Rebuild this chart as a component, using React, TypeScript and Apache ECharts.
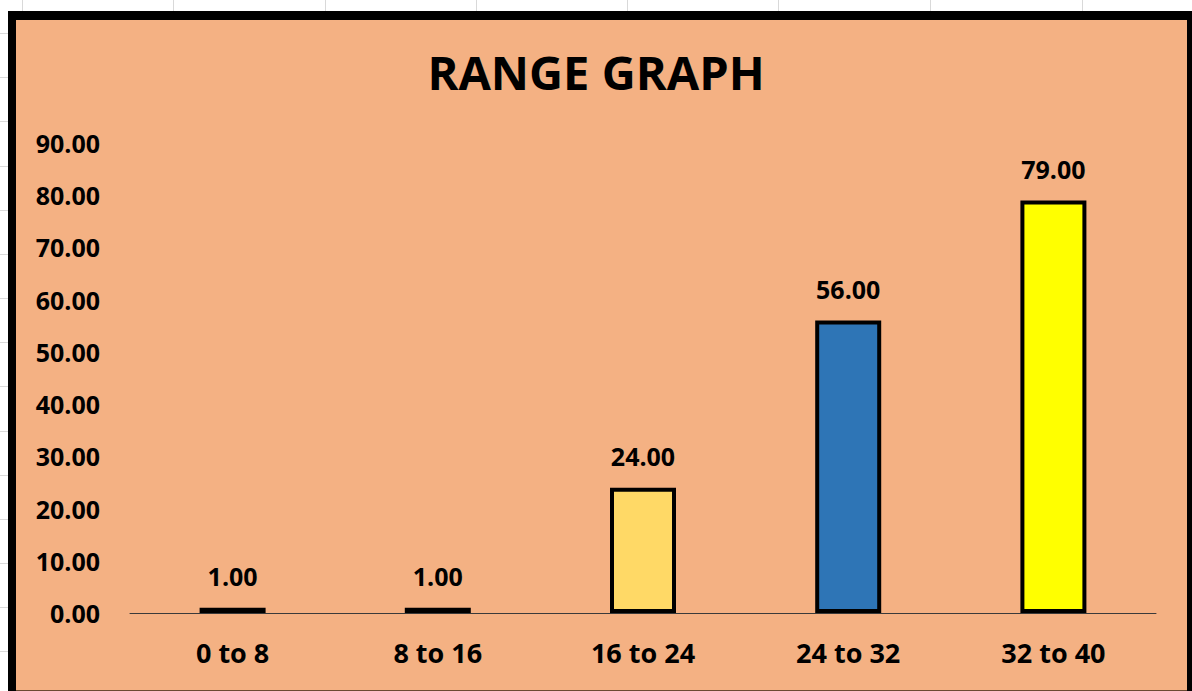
import React, { useEffect, useRef } from "react";
import * as echarts from "echarts";

const categories = ["0 to 8", "8 to 16", "16 to 24", "24 to 32", "32 to 40"];
const values = [1, 1, 24, 56, 79];
const barColors = ["#000000", "#000000", "#FFD966", "#2E75B6", "#FFFF00"];
const yTicks = { min: 0, max: 90, interval: 10 };
const titleText = "RANGE GRAPH";

const FONT = "'Open Sans', 'Noto Sans', sans-serif";

export default function App() {
  const ref = useRef<HTMLDivElement>(null);
  useEffect(() => {
    if (!ref.current) return;
    const chart = echarts.init(ref.current, undefined, { renderer: "svg" });

    const gridLines: any[] = [];
    const vx = [22, 173, 325, 476, 627, 778, 930, 1082];
    vx.forEach((x) =>
      gridLines.push({
        type: "line",
        z: -20,
        shape: { x1: x + 0.5, y1: 0, x2: x + 0.5, y2: 11 },
        style: { stroke: "#d9d9d9", lineWidth: 1 },
      })
    );
    for (let i = 0; i < 15; i++) {
      const y = Math.round(33 + i * 44.17) + 0.5;
      gridLines.push({
        type: "line",
        z: -20,
        shape: { x1: 0, y1: y, x2: 8, y2: y },
        style: { stroke: "#d9d9d9", lineWidth: 1 },
      });
    }

    chart.setOption({
      animation: false,
      backgroundColor: "#ffffff",
      title: {
        text: titleText,
        left: "center",
        top: 43,
        textStyle: {
          fontFamily: FONT,
          fontWeight: "bold",
          fontSize: 47,
          color: "#000000",
        },
      },
      graphic: [
        ...gridLines,
        {
          type: "rect",
          z: -15,
          shape: { x: 8, y: 11, width: 1184, height: 680 },
          style: { fill: "#000000" },
        },
        {
          type: "rect",
          z: -14,
          shape: { x: 16, y: 20, width: 1171, height: 671 },
          style: { fill: "#F4B183" },
        },
        {
          type: "line",
          z: -13,
          shape: { x1: 16, y1: 690.5, x2: 1187, y2: 690.5 },
          style: { stroke: "#6b4a33", lineWidth: 1 },
        },
      ],
      grid: { left: 130, right: 36, top: 143, bottom: 78 },
      xAxis: {
        type: "category",
        data: categories,
        axisLine: { show: true, lineStyle: { color: "#3a3a3a", width: 1 } },
        axisTick: { show: false },
        axisLabel: {
          margin: 26,
          fontFamily: FONT,
          fontWeight: "bold",
          fontSize: 27,
          color: "#000000",
        },
      },
      yAxis: {
        type: "value",
        min: yTicks.min,
        max: yTicks.max,
        interval: yTicks.interval,
        axisLine: { show: false },
        axisTick: { show: false },
        splitLine: { show: false },
        axisLabel: {
          margin: 30,
          fontFamily: FONT,
          fontWeight: "bold",
          fontSize: 25,
          color: "#000000",
          formatter: (v: number) => v.toFixed(2),
        },
      },
      series: [
        {
          type: "bar",
          barWidth: 66,
          data: values.map((v, i) => ({
            value: v,
            itemStyle: { color: barColors[i] },
          })),
          itemStyle: { borderColor: "#000000", borderWidth: 4 },
          label: {
            show: true,
            position: "top",
            distance: 19,
            fontFamily: FONT,
            fontWeight: "bold",
            fontSize: 25,
            color: "#000000",
            formatter: (p: any) => Number(p.value).toFixed(2),
          },
        },
      ],
    });
    return () => chart.dispose();
  }, []);

  return (
    <div
      ref={ref}
      style={{
        position: "fixed",
        left: 0,
        top: 0,
        width: 1192,
        height: 691,
      }}
    />
  );
}
